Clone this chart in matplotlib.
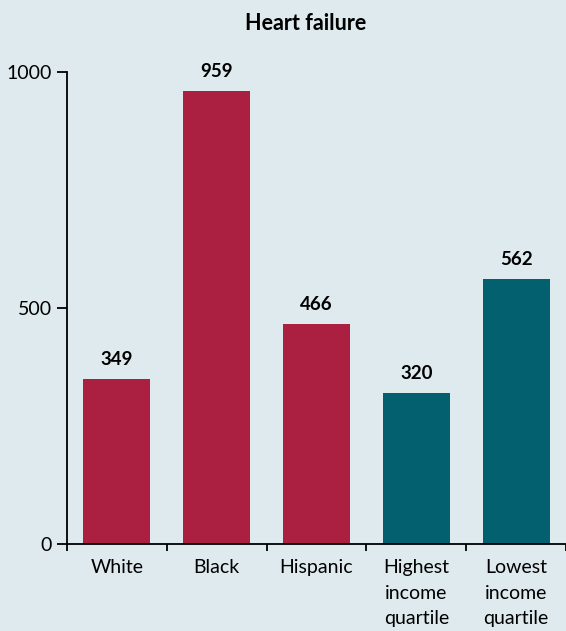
import numpy as np
import matplotlib.pyplot as plt

categories = ["White", "Black", "Hispanic", "Highest\nincome\nquartile", "Lowest\nincome\nquartile"]
values = [349, 959, 466, 320, 562]
groups = ["race", "race", "race", "income", "income"]

bg = "#deeaee"
colors = {"race": "#ab1f40", "income": "#03606e"}

plt.rcParams['font.family'] = ['Lato', 'DejaVu Sans']

fig = plt.figure(figsize=(5.66, 6.31), dpi=100, facecolor=bg)
ax = fig.add_axes([67 / 566, 1 - 544 / 631, 499 / 566, (544 - 72) / 631])
ax.set_facecolor(bg)

x = np.arange(len(categories))
bars = ax.bar(x, values, width=0.67, color=[colors[g] for g in groups])

for xi, v in zip(x, values):
    ax.annotate(str(v), (xi, v), xytext=(0, 8), textcoords="offset points",
                ha="center", va="bottom", fontsize=13.5, fontweight="bold")

ax.set_xlim(-0.5, 4.5)
ax.set_ylim(0, 1000)
ax.set_yticks([0, 500, 1000])
ax.set_xticks(x)
ax.set_xticklabels(categories, fontsize=14, linespacing=1.6)
ax.set_xticks(np.arange(-0.5, 5, 1), minor=True)
ax.tick_params(axis="x", which="major", length=0, pad=11)
ax.tick_params(axis="x", which="minor", length=5, width=1.3, direction="out")
ax.tick_params(axis="y", length=7, width=1.3, labelsize=14, pad=4)

for s in ["top", "right"]:
    ax.spines[s].set_visible(False)
for s in ["left", "bottom"]:
    ax.spines[s].set_linewidth(1.3)

fig.text(306 / 566, 1 - 24 / 631, "Heart failure", ha="center", va="center",
         fontsize=15.5, fontweight="bold")

fig.savefig("out.png", dpi=100, facecolor=bg)
